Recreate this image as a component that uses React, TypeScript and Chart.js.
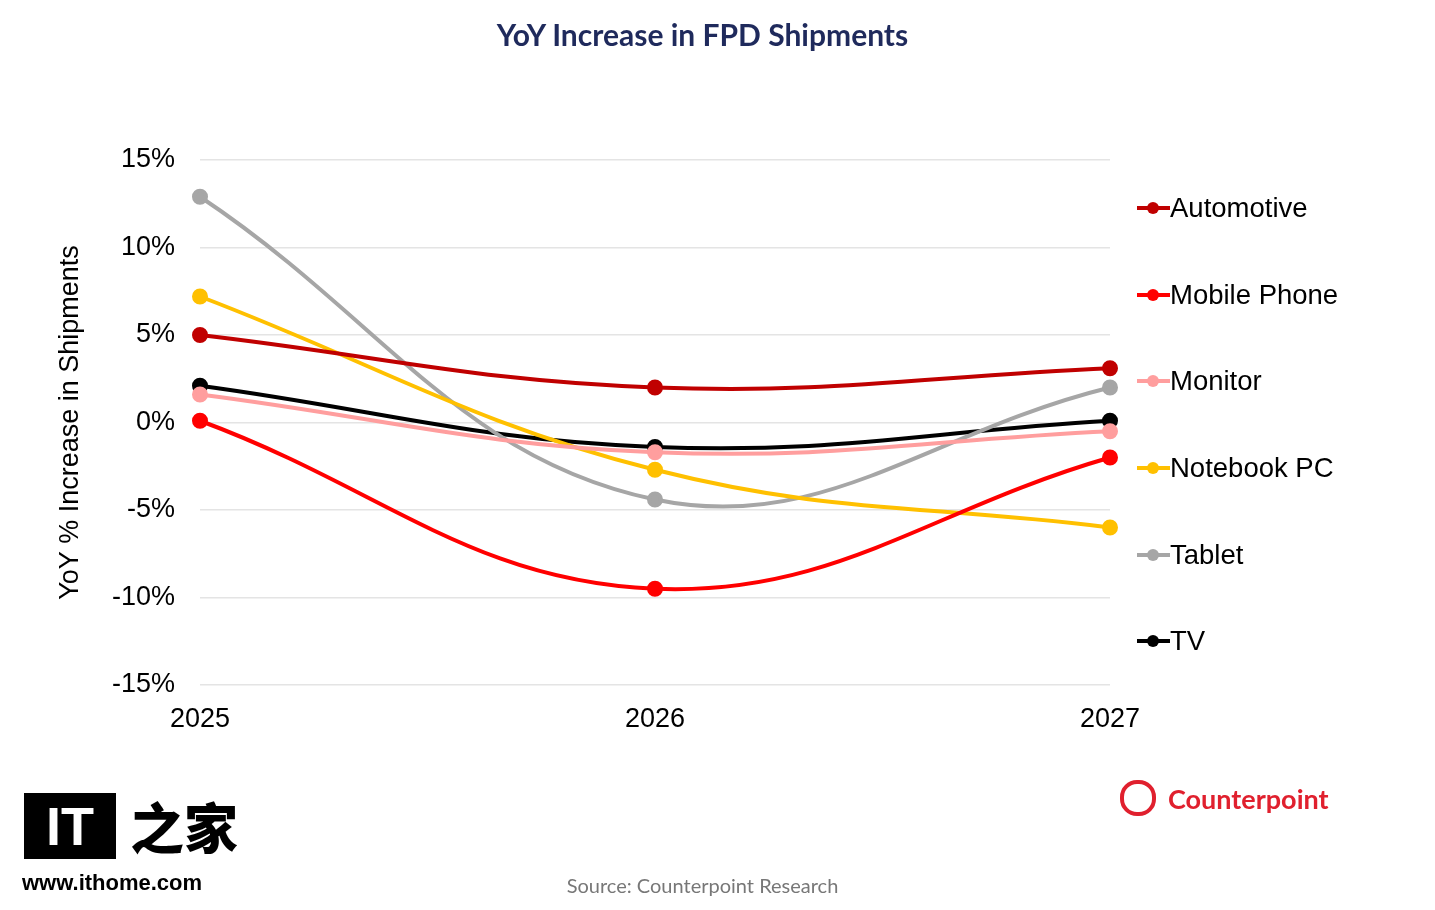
import React, { useEffect, useRef } from "react";
import { Chart, registerables } from "chart.js";
Chart.register(...registerables);

const years = ["2025", "2026", "2027"];
const seriesNames = ["Automotive", "Mobile Phone", "Monitor", "Notebook PC", "Tablet", "TV"];
const automotive = [5.0, 2.0, 3.1];
const mobilePhone = [0.1, -9.5, -2.0];
const monitor = [1.6, -1.7, -0.5];
const notebookPC = [7.2, -2.7, -6.0];
const tablet = [12.9, -4.4, 2.0];
const tv = [2.1, -1.4, 0.1];
const colors = ["#C00000", "#FF0000", "#FF9E9E", "#FFC000", "#A6A6A6", "#000000"];
const yTicks = [-15, -10, -5, 0, 5, 10, 15];

export default function App() {
  const ref = useRef<HTMLCanvasElement>(null);
  useEffect(() => {
    const values = [automotive, mobilePhone, monitor, notebookPC, tablet, tv];
    const chart = new Chart(ref.current!, {
      type: "line",
      data: {
        labels: years,
        datasets: seriesNames.map((n, i) => ({
          label: n,
          data: values[i],
          borderColor: colors[i],
          backgroundColor: colors[i],
          borderWidth: 4,
          pointRadius: 6,
          pointHoverRadius: 6,
          tension: 0.4,
        })),
      },
      options: {
        animation: false,
        responsive: false,
        layout: { padding: { left: 50, top: 160, right: 325, bottom: 175 } },
        plugins: { legend: { display: false }, tooltip: { enabled: false } },
        scales: {
          x: {
            offset: false,
            grid: { display: false },
            border: { display: false },
            ticks: { color: "#000", font: { size: 27, family: "Liberation Sans" }, padding: 10 },
            afterFit: (s: any) => { s.height = 50; },
          },
          y: {
            min: -15,
            max: 15,
            afterBuildTicks: (s: any) => { s.ticks = yTicks.map((v) => ({ value: v })); },
            grid: { color: "#E4E4E4", lineWidth: 1.5, drawTicks: false },
            border: { display: false },
            ticks: {
              color: "#000",
              padding: 25,
              font: { size: 27, family: "Liberation Sans" },
              callback: (v: any) => v + "%",
            },
            title: {
              display: true,
              text: "YoY % Increase in Shipments",
              color: "#000",
              font: { size: 27, family: "Liberation Sans" },
            },
            afterFit: (s: any) => { s.width = 150; },
          },
        },
      },
    });
    return () => chart.destroy();
  }, []);

  const legendY = [208, 295, 381, 468, 555, 641];
  return (
    <div style={{ position: "fixed", left: 0, top: 0, width: 1435, height: 910, background: "#fff", fontFamily: "Lato, 'Liberation Sans', sans-serif" }}>
      <canvas ref={ref} width={1435} height={910} style={{ position: "absolute", left: 0, top: 0 }} />
      <div style={{ position: "absolute", top: 16, left: 0, width: 1405, textAlign: "center", fontSize: 30, fontWeight: 700, color: "#1F2A5C" }}>
        YoY Increase in FPD Shipments
      </div>
      {seriesNames.map((n, i) => (
        <div key={n} style={{ position: "absolute", left: 1137, top: legendY[i] - 17, height: 34, display: "flex", alignItems: "center", fontFamily: "Liberation Sans", fontSize: 27.5, color: "#000" }}>
          <div style={{ position: "relative", width: 33, height: 34 }}>
            <div style={{ position: "absolute", left: 0, top: 15, width: 33, height: 4, background: colors[i] }} />
            <div style={{ position: "absolute", left: 10, top: 11, width: 12, height: 12, borderRadius: 6, background: colors[i] }} />
          </div>
          <span>{n}</span>
        </div>
      ))}
      <div style={{ position: "absolute", left: 1120, top: 780, display: "flex", alignItems: "center", color: "#E0202E", fontWeight: 700, fontSize: 27 }}>
        <div style={{ width: 28, height: 28, borderRadius: 17, border: "4px solid #E0202E", marginRight: 12 }} />
        Counterpoint
      </div>
      <div style={{ position: "absolute", top: 873, left: 0, width: 1405, textAlign: "center", fontSize: 20, color: "#777" }}>
        Source: Counterpoint Research
      </div>
      <div style={{ position: "absolute", left: 24, top: 786, display: "flex", alignItems: "center" }}>
        <div style={{ background: "#000", color: "#fff", fontWeight: 900, fontSize: 54, lineHeight: "66px", width: 92, textAlign: "center", fontFamily: "Liberation Sans" }}>IT</div>
        <div style={{ fontSize: 54, fontWeight: 900, marginLeft: 14, fontFamily: "Noto Sans CJK SC" }}>之家</div>
      </div>
      <div style={{ position: "absolute", left: 22, top: 870, fontSize: 22, fontWeight: 700, color: "#000", fontFamily: "Liberation Sans" }}>www.ithome.com</div>
    </div>
  );
}
